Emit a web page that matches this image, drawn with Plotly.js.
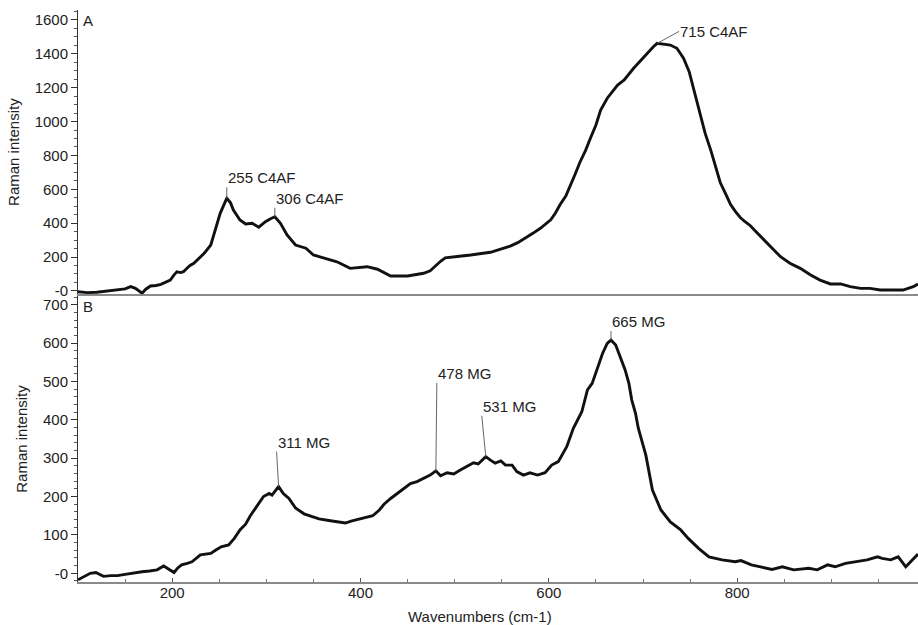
<!DOCTYPE html>
<html>
<head>
<meta charset="utf-8">
<script src="https://cdn.plot.ly/plotly-3.0.1.min.js"></script>
<style>html,body{margin:0;padding:0;background:#fff;}#chart{width:918px;height:625px;}</style>
</head>
<body>
<div id="chart"></div>
<script>
// Panel A (C4AF) spectrum
const wavenumbersA = [100,110,120,130,140,150,156,161,168,172,177,183,188,193,198,202,205,209,212,216,219,223,228,234,241,246,251,258,262,265,272,278,285,292,299,304,309,315,322,331,342,350,361,375,389,398,407,418,432,450,467,474,480,485,490,496,505,517,527,538,548,559,567,575,583,591,597,602,607,612,618,623,628,633,639,644,650,655,662,673,680,690,701,711,715,722,729,736,743,749,754,761,766,772,777,782,788,793,798,803,808,814,819,825,835,846,856,867,878,888,899,910,920,931,941,952,966,976,987,992];
const intensityA = [-5,-10,-8,-2,5,12,25,15,-14,10,29,32,39,50,64,95,113,108,113,135,150,163,190,222,271,360,458,547,520,478,419,395,399,376,409,425,438,399,330,271,252,212,193,172,133,140,143,128,88,88,104,119,150,175,195,200,205,212,218,228,245,265,285,310,340,370,395,420,460,510,560,620,690,760,830,900,980,1068,1138,1216,1246,1315,1383,1442,1462,1458,1452,1433,1374,1295,1187,1029,930,830,730,640,570,510,470,435,410,385,355,320,261,202,163,133,94,64,41,41,25,15,15,5,5,5,25,41];

// Panel B (MG) spectrum
const wavenumbersB = [100,106,113,119,127,135,142,150,157,163,168,176,184,191,197,202,206,210,216,221,230,235,241,246,252,260,266,272,278,283,289,293,297,303,306,313,318,324,331,340,347,356,368,377,384,390,395,405,413,420,425,432,439,446,453,460,467,474,480,485,492,499,506,513,520,525,533,538,543,549,554,561,566,573,580,588,596,603,610,619,626,635,641,646,651,657,662,666,671,676,681,685,688,692,695,703,710,719,729,740,748,759,770,784,798,804,815,826,837,848,860,876,885,896,904,915,927,938,949,954,963,971,979,988,992];
const intensityB = [-17,-9,0,2,-8,-6,-6,-3,0,3,4,6,9,19,10,2,14,22,26,30,48,50,52,60,69,74,91,113,128,150,172,185,200,208,204,226,208,195,170,155,150,142,137,133,131,136,139,145,150,165,180,195,208,221,234,239,248,256,267,254,262,259,269,278,288,285,304,295,287,293,282,282,265,256,262,256,262,282,291,330,378,421,478,495,530,573,599,608,595,565,530,495,452,417,378,308,217,165,134,113,91,65,43,35,30,33,22,16,10,17,9,13,9,22,17,26,30,35,43,39,35,43,17,39,50];

// Axis ticks
const xTickVals = [200,400,600,800];
const xTickText = ["200","400","600","800"];
const yTickValsA = [0,200,400,600,800,1000,1200,1400,1600];
const yTickTextA = ["-0","200","400","600","800","1000","1200","1400","1600"];
const yTickValsB = [0,100,200,300,400,500,600,700];
const yTickTextB = ["-0","100","200","300","400","500","600","700"];

// Peak labels
const peakLabelsA = ["255 C4AF","306 C4AF","715 C4AF"];
const peakXA = [258,309,715];
const peakYA = [547,438,1462];
const peakLabelsB = ["311 MG","478 MG","531 MG","665 MG"];
const peakXB = [313,480,533,666];
const peakYB = [226,267,304,608];

const FONT = "Liberation Sans, Arial, sans-serif";
const FS = 15;
const lineStyle = {color:"#111", width:2.9};

const traces = [
  {x: wavenumbersA, y: intensityA, xaxis:"x2", yaxis:"y2", mode:"lines", line: lineStyle, hoverinfo:"skip"},
  {x: wavenumbersB, y: intensityB, xaxis:"x", yaxis:"y", mode:"lines", line: lineStyle, hoverinfo:"skip"}
];

const offA = [[0,-11,"bottom"],[0,-9,"bottom"],[22,-12,"middle"]];
const offB = [[-2,-35,"bottom"],[1,-88,"bottom"],[-4,-41,"bottom"],[0,-9,"bottom"]];

const annotations = [];
peakLabelsA.forEach((t,i)=>annotations.push({
  x: peakXA[i], y: peakYA[i], xref:"x2", yref:"y2", text:t, showarrow:true,
  arrowhead:0, arrowwidth:1, arrowcolor:"#666", ax: offA[i][0], ay: offA[i][1],
  xanchor:"left", yanchor: offA[i][2], standoff:0, borderpad:0,
  font:{family:FONT, size:FS, color:"#222"}
}));
peakLabelsB.forEach((t,i)=>annotations.push({
  x: peakXB[i], y: peakYB[i], xref:"x", yref:"y", text:t, showarrow:true,
  arrowhead:0, arrowwidth:1, arrowcolor:"#666", ax: offB[i][0], ay: offB[i][1],
  xanchor:"left", yanchor: offB[i][2], standoff:0, borderpad:0,
  font:{family:FONT, size:FS, color:"#222"}
}));
annotations.push({text:"A", xref:"paper", yref:"paper", x:0.004, y:1.0, xanchor:"left", yanchor:"top", showarrow:false, font:{family:FONT,size:FS,color:"#222"}});
annotations.push({text:"B", xref:"paper", yref:"paper", x:0.004, y:0.5, xanchor:"left", yanchor:"top", showarrow:false, font:{family:FONT,size:FS,color:"#222"}});
// x axis title
annotations.push({text:"Wavenumbers (cm-1)", xref:"paper", yref:"paper", x:0.478, y:-0.061, xanchor:"center", yanchor:"middle", showarrow:false, font:{family:FONT,size:FS,color:"#222"}});

const yCommon = {
  showline:true, linecolor:"#333", linewidth:1, ticks:"outside", ticklen:6, tickcolor:"#333",
  showgrid:false, zeroline:false, tickmode:"array",
  tickfont:{family:FONT, size:FS, color:"#222"},
  title:{text:"Raman intensity", font:{family:FONT, size:FS, color:"#222"}, standoff:11}
};

const layout = {
  width:918, height:625,
  margin:{l:78, r:0, t:10, b:43},
  paper_bgcolor:"#fff", plot_bgcolor:"#fff",
  showlegend:false,
  font:{family:FONT, size:FS, color:"#222"},
  xaxis:{
    domain:[0,1], range:[100,992], anchor:"y",
    showline:true, linecolor:"#8a8a8a", linewidth:2, showgrid:false, zeroline:false,
    tickmode:"array", tickvals:xTickVals, ticktext:xTickText,
    ticks:"inside", ticklen:4, tickcolor:"#555", ticklabelstandoff:-4,
    minor:{dtick:50, ticks:"inside", ticklen:3, tickcolor:"#777"},
    tickfont:{family:FONT, size:FS, color:"#222"}
  },
  xaxis2:{
    domain:[0,1], range:[100,992], anchor:"y2", matches:"x",
    showline:true, linecolor:"#8a8a8a", linewidth:2, showgrid:false, zeroline:false,
    showticklabels:false, ticks:""
  },
  yaxis: Object.assign({}, yCommon, {
    domain:[0,0.5], range:[-22.7,722.7], anchor:"x",
    tickvals:yTickValsB, ticktext:yTickTextB,
    minor:{dtick:20, ticks:"outside", ticklen:3, tickcolor:"#555"}
  }),
  yaxis2: Object.assign({}, yCommon, {
    domain:[0.503,1], range:[-20,1659], anchor:"x2",
    tickvals:yTickValsA, ticktext:yTickTextA,
    minor:{dtick:50, ticks:"outside", ticklen:3, tickcolor:"#555"}
  }),
  annotations: annotations
};

Plotly.newPlot("chart", traces, layout, {staticPlot:true, displayModeBar:false});
</script>
</body>
</html>
